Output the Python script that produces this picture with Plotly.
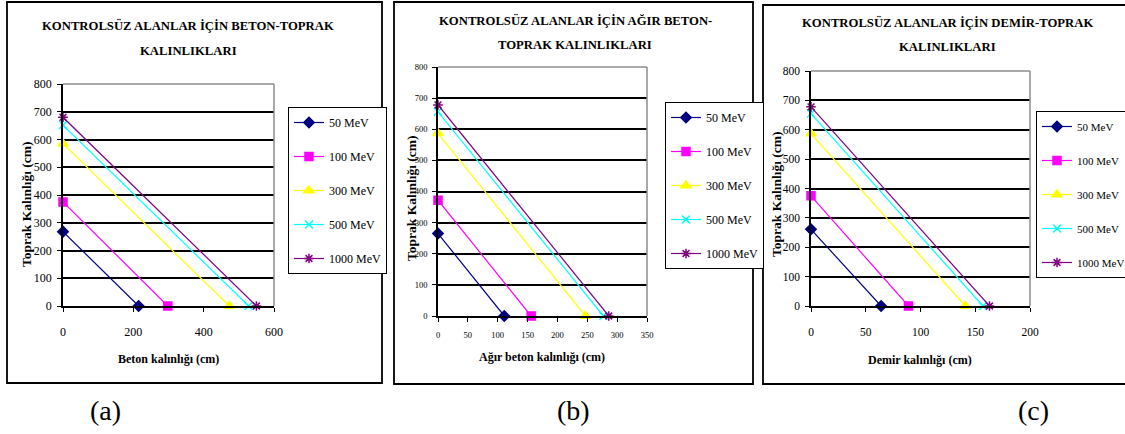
import plotly.graph_objects as go

W, H = 1125, 434

energies = ["50 MeV", "100 MeV", "300 MeV", "500 MeV", "1000 MeV"]

# Panel (a): concrete vs soil
soil_a = [268, 375, 585, 652, 680]
beton_a = [215, 298, 473, 528, 550]
# Panel (b): heavy concrete vs soil
soil_b = [265, 372, 587, 656, 678]
agir_b = [111, 156, 247, 277, 286]
# Panel (c): iron vs soil
soil_c = [261, 375, 587, 655, 678]
demir_c = [64, 89, 141, 157, 163]

colors = ["#000080", "#FF00FF", "#FFFF00", "#00FFFF", "#800080"]
symbols = ["diamond", "square", "triangle-up", "x-thin-open", "asterisk-open"]
msizes = [8, 8, 9, 8, 8]

SERIF = "Liberation Serif"


def fx(px):
    return px / W


def fy(py):
    return 1 - py / H


panels = [
    dict(name="a", soil=soil_a, shield=beton_a, xr=[0, 600], dt=200,
         box=(63, 274, 84, 306), frame=(7, 382, 2, 383),
         title=["KONTROLSÜZ ALANLAR İÇİN BETON-TOPRAK", "KALINLIKLARI"],
         tpos=(188, 25, 51),
         xtitle="Beton kalınlığı (cm)", xtpos=(168, 359), ytpos=(27, 204),
         tickfont=12, xtlab=10, legfont=12,
         legend=(288, 107), label="(a)", lpos=(105, 410)),
    dict(name="b", soil=soil_b, shield=agir_b, xr=[0, 350], dt=50,
         box=(438, 647, 67, 316), frame=(394, 753, 2, 384),
         title=["KONTROLSÜZ ALANLAR İÇİN AĞIR BETON-", "TOPRAK KALINLIKLARI"],
         tpos=(575, 21, 45),
         xtitle="Ağır beton kalınlığı (cm)", xtpos=(542, 357), ytpos=(411, 198),
         tickfont=8.5, xtlab=6, legfont=12,
         legend=(665, 102), label="(b)", lpos=(573, 410)),
    dict(name="c", soil=soil_c, shield=demir_c, xr=[0, 200], dt=50,
         box=(811, 1030, 71, 306), frame=(763, 1140, 5, 384),
         title=["KONTROLSÜZ ALANLAR İÇİN DEMİR-TOPRAK", "KALINLIKLARI"],
         tpos=(947, 22, 47),
         xtitle="Demir kalınlığı (cm)", xtpos=(920, 360), ytpos=(777, 194),
         tickfont=11.5, xtlab=10, legfont=11,
         legend=(1036, 111), label="(c)", lpos=(1033, 410)),
]

fig = go.Figure()
shapes = []
annotations = []
layout = {}

for i, p in enumerate(panels):
    k = "" if i == 0 else str(i + 1)
    xa, ya = "x" + k, "y" + k
    leg = "legend" + k
    for j, e in enumerate(energies):
        fig.add_trace(go.Scatter(
            x=[0, p["shield"][j]], y=[p["soil"][j], 0],
            mode="lines+markers", name=e,
            line=dict(color=colors[j], width=1.2),
            marker=dict(symbol=symbols[j], size=msizes[j], color=colors[j],
                        line=dict(color=colors[j], width=1.5)),
            xaxis=xa, yaxis=ya, legend=leg, legendgroup=p["name"] + e,
            cliponaxis=False, showlegend=True,
        ))
    x0, x1, yt, yb = p["box"]
    layout["xaxis" + k] = dict(
        domain=[fx(x0), fx(x1)], range=p["xr"], anchor=ya,
        tickmode="linear", tick0=0, dtick=p["dt"],
        showgrid=False, zeroline=False, showline=True, linecolor="black",
        linewidth=1.5, ticks="outside", ticklen=4, tickcolor="black",
        tickfont=dict(family=SERIF, size=p["tickfont"], color="black"),
        ticklabelstandoff=p["xtlab"], fixedrange=True, automargin=False,
    )
    layout["yaxis" + k] = dict(
        domain=[fy(yb), fy(yt)], range=[0, 800], anchor=xa,
        tickmode="linear", tick0=0, dtick=100,
        showgrid=True, gridcolor="black", gridwidth=1.6,
        zeroline=False, showline=True, linecolor="black", linewidth=1.5,
        ticks="outside", ticklen=4, tickcolor="black",
        tickfont=dict(family=SERIF, size=p["tickfont"], color="black"),
        ticklabelstandoff=3, fixedrange=True, automargin=False,
    )
    lx, ly = p["legend"]
    layout[leg] = dict(
        x=fx(lx), y=fy(ly), xanchor="left", yanchor="top",
        xref="paper", yref="paper",
        bgcolor="white", bordercolor="black", borderwidth=1,
        font=dict(family=SERIF, size=p["legfont"], color="black"),
        traceorder="grouped", tracegroupgap=15, itemwidth=30,
    )
    shapes.append(dict(type="line", xref="paper", yref="paper",
                       x0=fx(x0), x1=fx(x1), y0=fy(yt), y1=fy(yt),
                       line=dict(color="#8c8c8c", width=1.5), layer="above"))
    shapes.append(dict(type="line", xref="paper", yref="paper",
                       x0=fx(x1), x1=fx(x1), y0=fy(yt), y1=fy(yb),
                       line=dict(color="#8c8c8c", width=1.5), layer="above"))
    f0, f1, g0, g1 = p["frame"]
    shapes.append(dict(type="rect", xref="paper", yref="paper",
                       x0=fx(f0), x1=fx(f1), y0=fy(g1), y1=fy(g0),
                       line=dict(color="black", width=1.8), layer="below"))
    tx, ty1, ty2 = p["tpos"]
    for line_txt, ty in zip(p["title"], [ty1, ty2]):
        annotations.append(dict(text="<b>" + line_txt + "</b>", x=fx(tx), y=fy(ty),
                                xref="paper", yref="paper", showarrow=False,
                                xanchor="center", yanchor="middle",
                                font=dict(family=SERIF, size=12.7, color="black")))
    ax_, ay_ = p["xtpos"]
    annotations.append(dict(text="<b>" + p["xtitle"] + "</b>", x=fx(ax_), y=fy(ay_),
                            xref="paper", yref="paper", showarrow=False,
                            xanchor="center", yanchor="middle",
                            font=dict(family=SERIF, size=12, color="black")))
    bx_, by_ = p["ytpos"]
    annotations.append(dict(text="<b>Toprak Kalınlığı (cm)</b>", x=fx(bx_), y=fy(by_),
                            xref="paper", yref="paper", showarrow=False,
                            xanchor="center", yanchor="middle", textangle=-90,
                            font=dict(family=SERIF, size=13.5, color="black")))
    px_, py_ = p["lpos"]
    annotations.append(dict(text=p["label"], x=fx(px_), y=fy(py_),
                            xref="paper", yref="paper", showarrow=False,
                            xanchor="center", yanchor="middle",
                            font=dict(family=SERIF, size=28, color="black")))

fig.update_layout(
    width=W, height=H, autosize=False,
    margin=dict(l=0, r=0, t=0, b=0, pad=0, autoexpand=False),
    paper_bgcolor="white", plot_bgcolor="white",
    font=dict(family=SERIF, color="black"),
    shapes=shapes, annotations=annotations,
    **layout,
)

fig.write_html(
    "out.html",
    config={"responsive": False, "displayModeBar": False},
    post_script="document.body.style.margin='0';document.body.style.overflow='hidden';",
)
